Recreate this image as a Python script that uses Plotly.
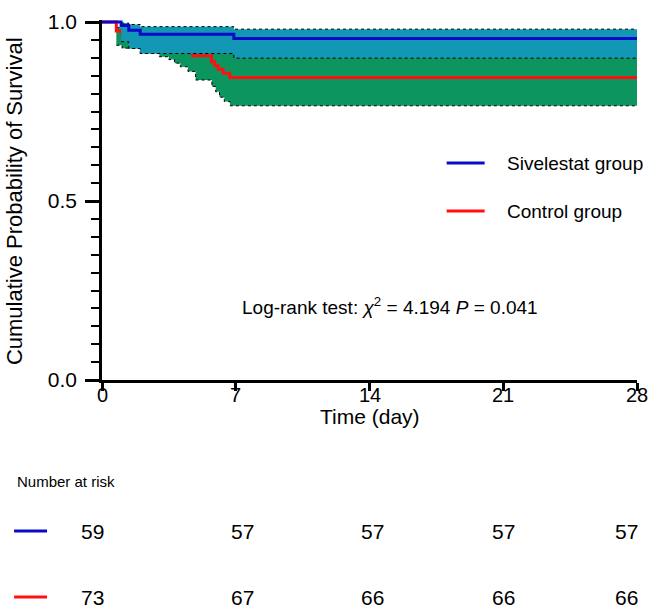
import plotly.graph_objects as go

# ---------------- data ----------------
time_ticks = [0, 7, 14, 21, 28]
surv_ticks = [0.0, 0.5, 1.0]
surv_tick_text = ["0.0", "0.5", "1.0"]

group_names = ["Sivelestat group", "Control group"]

# Sivelestat group KM estimate and 95% CI
sive_t = [0, 1.0, 1.4, 2.0, 6.9, 28]
sive_s = [1.0, 0.990, 0.977, 0.966, 0.954, 0.954]
sive_ci_t = [1.0, 1.4, 2.0, 6.9, 28]
sive_lo = [0.945, 0.926, 0.912, 0.899, 0.899]
sive_hi = [0.997, 0.993, 0.987, 0.980, 0.980]

# Control group KM estimate and 95% CI
ctrl_t = [0, 0.75, 1.05, 3.0, 3.5, 4.1, 4.75, 5.73, 5.9, 6.08, 6.34, 6.69, 28]
ctrl_s = [1.0, 0.975, 0.962, 0.945, 0.935, 0.920, 0.906, 0.889, 0.878, 0.868, 0.857, 0.845, 0.845]
ctrl_ci_t = [0.75, 1.05, 2.0, 3.0, 3.5, 3.8, 4.1, 4.5, 4.9, 5.75, 5.95, 6.15, 6.4, 6.7, 28]
ctrl_lo = [0.935, 0.927, 0.913, 0.903, 0.895, 0.885, 0.875, 0.862, 0.838, 0.820, 0.805, 0.790, 0.778, 0.766, 0.766]
ctrl_hi = [0.985, 0.980, 0.975, 0.970, 0.965, 0.960, 0.955, 0.950, 0.945, 0.940, 0.935, 0.930, 0.925, 0.920, 0.920]

# Number at risk
risk_times = [0, 7, 14, 21, 28]
risk_sive = [59, 57, 57, 57, 57]
risk_ctrl = [73, 67, 66, 66, 66]

stat_text = "Log-rank test: <i>χ</i><sup>2</sup> = 4.194 <i>P</i> = 0.041"

# ---------------- styles ----------------
FONT = "Liberation Sans, Arial, Helvetica, sans-serif"
BLUE = "#0A0AC8"
RED = "#FF1010"
TEAL = "#1297B4"
GREEN = "#0D955F"

W, H = 650, 610
PX0, PX1 = 102, 637.5      # plot area left/right (px)
PY_TOP, PY0 = 20, 380      # plot area top / y=0 (px)
Y1_PX = 22                 # pixel row of y = 1.0

y_top = (PY0 - PY_TOP) / (PY0 - Y1_PX)


def px_x(p):
    return (p - PX0) / (PX1 - PX0)


def px_y(p):
    return (PY0 - p) / (PY0 - PY_TOP)


fig = go.Figure()


def add_band(t, lo, hi, color):
    fig.add_trace(go.Scatter(x=t, y=lo, mode="lines", line_shape="hv",
                             line=dict(color="black", width=1, dash="dot"),
                             hoverinfo="skip", showlegend=False))
    fig.add_trace(go.Scatter(x=t, y=hi, mode="lines", line_shape="hv",
                             line=dict(color="black", width=1, dash="dot"),
                             fill="tonexty", fillcolor=color,
                             hoverinfo="skip", showlegend=False))


# control group: band then curve
add_band(ctrl_ci_t, ctrl_lo, ctrl_hi, GREEN)
fig.add_trace(go.Scatter(x=ctrl_t, y=ctrl_s, mode="lines", line_shape="hv",
                         line=dict(color=RED, width=3), name=group_names[1],
                         showlegend=False))
# sivelestat group: band then curve
add_band(sive_ci_t, sive_lo, sive_hi, TEAL)
fig.add_trace(go.Scatter(x=sive_t, y=sive_s, mode="lines", line_shape="hv",
                         line=dict(color=BLUE, width=3), name=group_names[0],
                         showlegend=False))

fig.update_layout(
    width=W, height=H,
    margin=dict(l=PX0, r=W - PX1, t=PY_TOP, b=H - PY0, pad=0),
    plot_bgcolor="white", paper_bgcolor="white",
    font=dict(family=FONT, color="black", size=16),
    showlegend=False,
    xaxis=dict(range=[0, 28], tickvals=time_ticks, showticklabels=False,
               showline=True, linecolor="black", linewidth=2.5,
               ticks="outside", ticklen=8, tickwidth=2.5, tickcolor="black",
               showgrid=False, zeroline=False, automargin=False),
    yaxis=dict(range=[0, y_top], tickvals=surv_ticks, ticktext=surv_tick_text,
               showline=True, linecolor="black", linewidth=2.5,
               ticks="outside", ticklen=14, tickwidth=2.5, tickcolor="black",
               tickfont=dict(size=21), showgrid=False, zeroline=False,
               automargin=False, ticklabelstandoff=4,
               minor=dict(dtick=0.05, ticks="outside", ticklen=8, tickwidth=2,
                          tickcolor="black", showgrid=False)),
)

ann = []
# x tick labels
for tt in time_ticks:
    ann.append(dict(text=str(tt), x=tt, xref="x", y=px_y(395), yref="paper",
                    showarrow=False, font=dict(size=20), xanchor="center", yanchor="middle"))
# axis titles
ann.append(dict(text="Time (day)", x=px_x(370), y=px_y(416), xref="paper", yref="paper",
                showarrow=False, font=dict(size=21), xanchor="center", yanchor="middle"))
ann.append(dict(text="Cumulative Probability of Survival", x=px_x(14), y=px_y(201),
                xref="paper", yref="paper", showarrow=False, textangle=-90,
                font=dict(size=22), xanchor="center", yanchor="middle"))
# stats
ann.append(dict(text=stat_text, x=px_x(390), y=px_y(306), xref="paper", yref="paper",
                showarrow=False, font=dict(size=19), xanchor="center", yanchor="middle"))
# legend
shapes = []
for name, color, ypx in [(group_names[0], BLUE, 163), (group_names[1], RED, 211)]:
    shapes.append(dict(type="line", xref="paper", yref="paper", x0=px_x(447), x1=px_x(485),
                       y0=px_y(ypx), y1=px_y(ypx), line=dict(color=color, width=3)))
    ann.append(dict(text=name, x=px_x(505), y=px_y(ypx), xref="paper", yref="paper",
                    showarrow=False, font=dict(size=19), xanchor="left", yanchor="middle"))

# number at risk table
ann.append(dict(text="Number at risk", x=px_x(15), y=px_y(482), xref="paper", yref="paper",
                showarrow=False, font=dict(size=15), xanchor="left", yanchor="middle"))
risk_shift = [-10, 7, 3, 0, -11]
for counts, color, ypx in [(risk_sive, BLUE, 531), (risk_ctrl, RED, 597)]:
    shapes.append(dict(type="line", xref="paper", yref="paper", x0=px_x(14), x1=px_x(47),
                       y0=px_y(ypx), y1=px_y(ypx), line=dict(color=color, width=3)))
    for tt, n, sh in zip(risk_times, counts, risk_shift):
        ann.append(dict(text=str(n), x=tt, xref="x", y=px_y(ypx), yref="paper",
                        xshift=sh, showarrow=False, font=dict(size=21),
                        xanchor="center", yanchor="middle"))

fig.update_layout(annotations=ann, shapes=shapes)
fig.write_html("out.html", config={"displayModeBar": False},
               post_script="document.body.style.margin='0px';document.body.style.padding='0px';")
